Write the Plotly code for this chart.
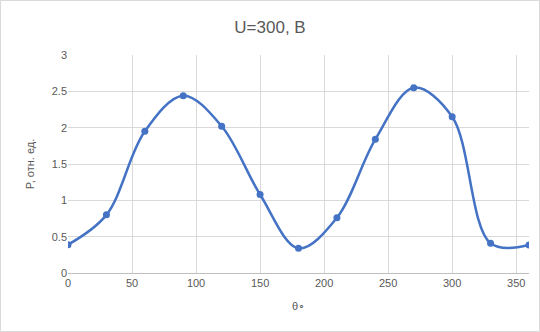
import plotly.graph_objects as go

theta = [0, 30, 60, 90, 120, 150, 180, 210, 240, 270, 300, 330, 360]
power = [0.39, 0.80, 1.95, 2.44, 2.02, 1.08, 0.34, 0.76, 1.84, 2.55, 2.15, 0.41, 0.385]

x_ticks = [0, 50, 100, 150, 200, 250, 300, 350]
y_ticks = [0, 0.5, 1, 1.5, 2, 2.5, 3]
y_tick_labels = ["0", "0.5", "1", "1.5", "2", "2.5", "3"]

title_text = "U=300, В"
x_title = "θ∘"
y_title = "P, отн. ед."

line_color = "#4472C4"
grey_text = "#595959"
grid = "#D9D9D9"

fig = go.Figure()
fig.add_trace(go.Scatter(
    x=theta, y=power, mode="lines+markers",
    line=dict(color=line_color, width=2.5, shape="spline", smoothing=1.0),
    marker=dict(color=line_color, size=7, symbol="circle"),
    showlegend=False, hoverinfo="skip",
))

W, H = 540, 332
ml, mr, mt, mb = 68, 11, 55, 59
pw, ph = W - ml - mr, H - mt - mb

fig.update_layout(
    width=W, height=H,
    margin=dict(l=ml, r=mr, t=mt, b=mb),
    paper_bgcolor="white", plot_bgcolor="white",
    font=dict(family="Liberation Sans, Arial, sans-serif", color=grey_text, size=11),
    title=dict(text=title_text, x=0.5, xanchor="center", y=1 - 27 / H, yanchor="middle",
               font=dict(size=17, color=grey_text)),
    xaxis=dict(range=[0, 360], tickvals=x_ticks, showgrid=True, gridcolor=grid, gridwidth=1,
               zeroline=False, showline=True, linecolor="#BFBFBF", linewidth=1,
               ticks="", tickfont=dict(size=11, color=grey_text),
               title=dict(text=x_title, font=dict(size=11, color=grey_text), standoff=14)),
    yaxis=dict(range=[0, 3], tickvals=y_ticks, ticktext=y_tick_labels, showgrid=True,
               gridcolor=grid, gridwidth=1, zeroline=False, showline=False, ticks="",
               tickfont=dict(size=11, color=grey_text),
               title=dict(text=y_title, font=dict(size=11, color=grey_text), standoff=14)),
    shapes=[dict(type="rect", xref="paper", yref="paper",
                 x0=(0.5 - ml) / pw, x1=(W - 0.5 - ml) / pw,
                 y0=(H - mb - (H - 0.5)) / ph, y1=(H - mb - 0.5) / ph,
                 line=dict(color="#D9D9D9", width=1), layer="below")],
)

fig.write_html("out.html", config={"displayModeBar": False},
               post_script="document.body.style.margin='0';")
